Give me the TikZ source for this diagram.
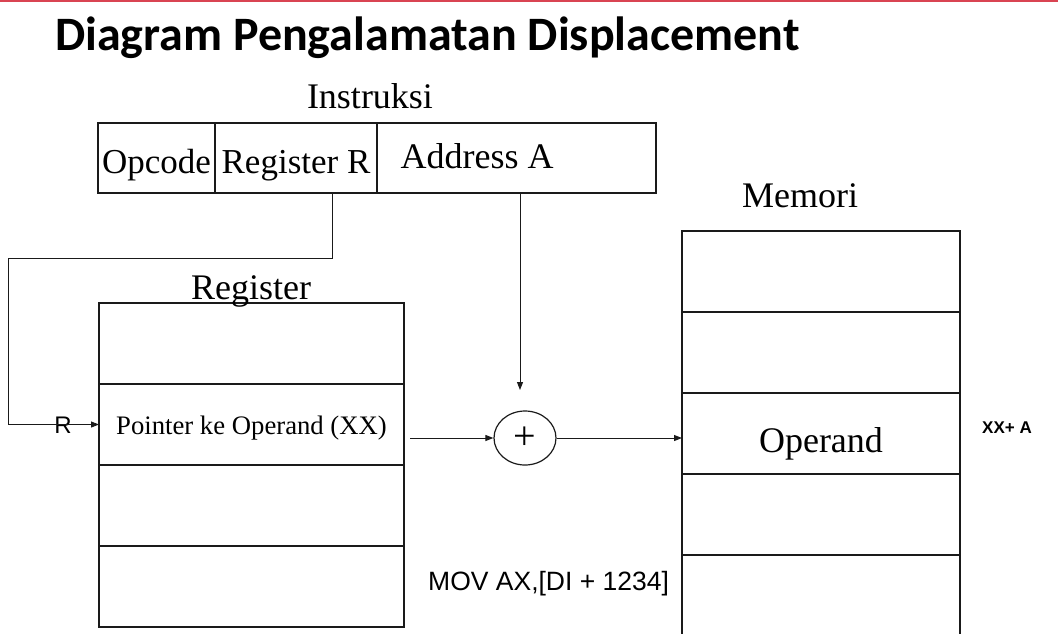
\documentclass[tikz,border=0pt]{standalone}
\usepackage{fontspec}
\setmainfont{Liberation Serif}
\setsansfont{Liberation Sans}
\newfontfamily\titlefont{Carlito}
\usepackage{tikz}
\usetikzlibrary{
  arrows.meta,
  shapes.geometric,
  positioning,
  calc
}
\definecolor{dpRed}{HTML}{D94452}
\definecolor{dpInk}{HTML}{1A1A1A}
\tikzset{
  cell/.style={
    draw=dpInk, line width=1.2pt, inner sep=0pt, outer sep=0pt, minimum height=81pt
  },
  field/.style={cell, minimum height=70pt, text height=34pt, text depth=4pt,
    font=\fontsize{35}{40}\selectfont},
  regcell/.style={cell, minimum width=305pt},
  memcell/.style={cell, minimum width=278pt},
  caption/.style={font=\fontsize{36}{40}\selectfont, anchor=base},
  sumnode/.style={draw=dpInk, ellipse, line width=1.2pt, minimum width=62pt,
    minimum height=54pt, inner sep=0pt, font=\fontsize{40}{40}\selectfont},
  link/.style={-{Triangle[length=8pt,width=6pt]}, line width=1pt, dpInk},
  note/.style={font=\sffamily\fontsize{26.5}{30}\selectfont}
}

\begin{document}
\begin{tikzpicture}[x=1pt, y=-1pt, node distance=0pt]
  \clip (0,0) rectangle (1058,633);
  \useasboundingbox (0,0) rectangle (1058,633);
  \draw[dpRed, line width=2pt] (0,1) -- (1058,1);
  \node[anchor=base west, inner sep=0pt, font=\titlefont\bfseries\fontsize{48}{50}\selectfont]
    (title) at (55,50) {Diagram Pengalamatan Displacement};

  % instruksi
  \node[field, anchor=north west, minimum width=117pt] (opc) at (98,123) {Opcode};
  \node[field, minimum width=162pt, right=of opc] (regr) {Register R};
  \node[field, minimum width=279pt, right=of regr] (addr) {};
  \node[caption, anchor=base west] (addrtxt) at (397,168) {Address A};
  \node[caption] (instlbl) at (370,108) {Instruksi};

  % register
  \node[regcell, anchor=north west] (reg1) at (99,303) {};
  \node[regcell, below=of reg1, text height=22pt, text depth=3pt,
    font=\fontsize{26.7}{30}\selectfont] (ptr) {Pointer ke Operand (XX)};
  \node[regcell, below=of ptr] (reg3) {};
  \node[regcell, below=of reg3] (reg4) {};
  \node[caption] (reglbl) at (251,299) {Register};

  % memori
  \node[memcell, anchor=north west] (mem1) at (682,231) {};
  \node[memcell, below=of mem1] (mem2) {};
  \node[memcell, below=of mem2, text height=40pt, text depth=3pt,
    font=\fontsize{36}{40}\selectfont] (mem3) {Operand};
  \node[memcell, below=of mem3] (mem4) {};
  \node[memcell, below=of mem4] (mem5) {};
  \node[caption] (memlbl) at (800,207) {Memori};

  \node[sumnode] (sum) at (525,438) {+};

  \coordinate (rtap) at (332,0);
  \coordinate (bend) at (8,258);
  \coordinate (addin) at (520,390);
  \coordinate (ptrout) at (410,438);

  \node[note, font=\sffamily\fontsize{24}{28}\selectfont] (rtxt) at (63,425) {R};
  \draw[link] (rtap |- regr.south) |- (bend) |- (ptr.west);
  \draw[link] (addin |- addr.south) -- (addin);
  \draw[link] (ptrout) -- (sum.west);
  \draw[link] (sum.east) -- (sum -| mem3.west);

  \node[font=\sffamily\bfseries\fontsize{17}{20}\selectfont] (xxa) at (1007,428) {XX+ A};
  \node[note, anchor=west, inner sep=0pt] (mov) at (428,584) {MOV AX,[DI + 1234]};
\end{tikzpicture}
\end{document}
